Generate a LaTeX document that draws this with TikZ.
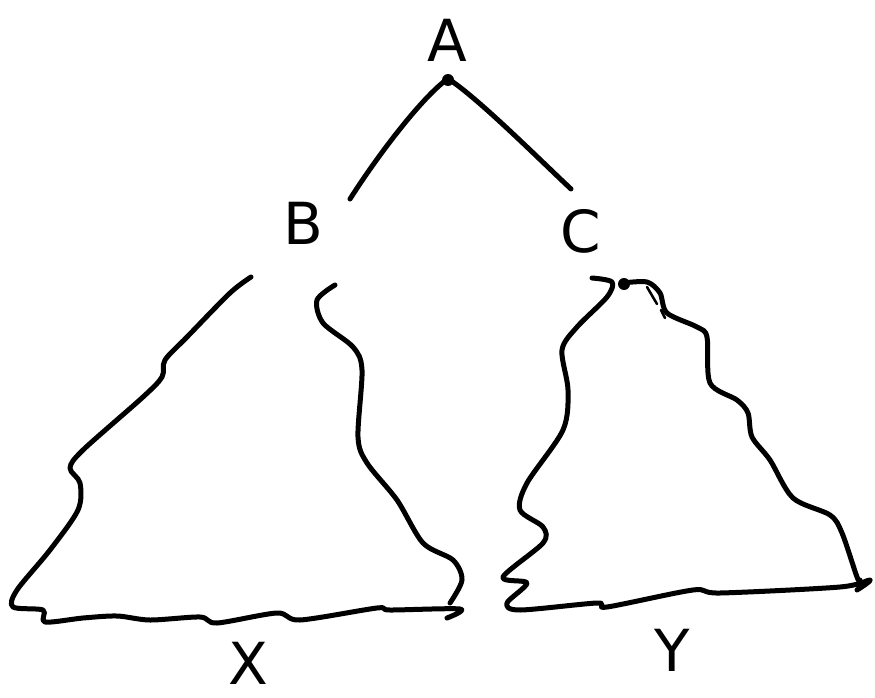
\documentclass[tikz,border=0pt]{standalone}
\usepackage{fontspec}
\setmainfont{DejaVu Sans}
\begin{document}
\begin{tikzpicture}[x=1pt,y=-1pt,
  ink/.style={line width=5pt,line cap=round,line join=round,black},
  letter/.style={font=\fontsize{58}{58}\selectfont,inner sep=0pt}]
\useasboundingbox (0,0) rectangle (875,698);
% letters
\node[letter] (A) at (447,40) {A};
\node[letter] (B) at (303,223) {B};
\node[letter] (C) at (581,231) {C};
\node[letter] (X) at (248,663) {X};
\node[letter] (Y) at (672,650) {Y};
% edges
\coordinate (ab1) at (446,80);
\coordinate (ab2) at (350,199);
\coordinate (ac1) at (450,80);
\coordinate (ac2) at (571,189);
\draw[ink] (ab1) .. controls (420,100) and (378,155) .. (ab2);
\draw[ink] (ac1) .. controls (480,100) and (540,160) .. (ac2);
\fill (448,80) circle (6pt);
% triangle under B
\draw[ink] plot[smooth,tension=0.5] coordinates {
 (251,277) (230,293) (187,337) (165,360) (162,377) (143,397) (83,450) (70,468)
 (80,483) (78,510) (50,550) (17,590) (13,607) (43,610) (45,622) (83,618)
 (117,616) (150,620) (200,617) (217,623) (277,613) (300,620) (377,608)
 (390,610) (460,609) (447,618)};
\draw[ink] plot[smooth,tension=0.5] coordinates {
 (335,285) (317,300) (323,323) (353,347) (362,370) (358,437) (367,463)
 (397,500) (423,543) (453,560) (462,580) (450,603)};
% triangle under C
\draw[ink] plot[smooth,tension=0.5] coordinates {
 (592,278) (612,282) (607,297) (577,327) (562,350) (568,390) (563,430)
 (527,483) (520,510) (543,527) (543,543) (503,577) (527,583) (507,603)
 (520,610) (597,603) (607,607) (693,590) (720,593) (840,587) (870,580)
 (857,590)};
\draw[ink] plot[smooth,tension=0.5] coordinates {
 (623,283) (647,282) (660,293) (667,313) (697,327) (707,337) (710,383)
 (737,400) (748,413) (752,437) (770,460) (793,498) (830,515) (842,533)
 (857,577) (860,580)};
\fill (624,284) circle (6pt);
\draw[line width=2.5pt,line cap=round] (647,287) -- (657,304);
\draw[line width=2.5pt,line cap=round] (661,310) -- (665,318);
\end{tikzpicture}
\end{document}
